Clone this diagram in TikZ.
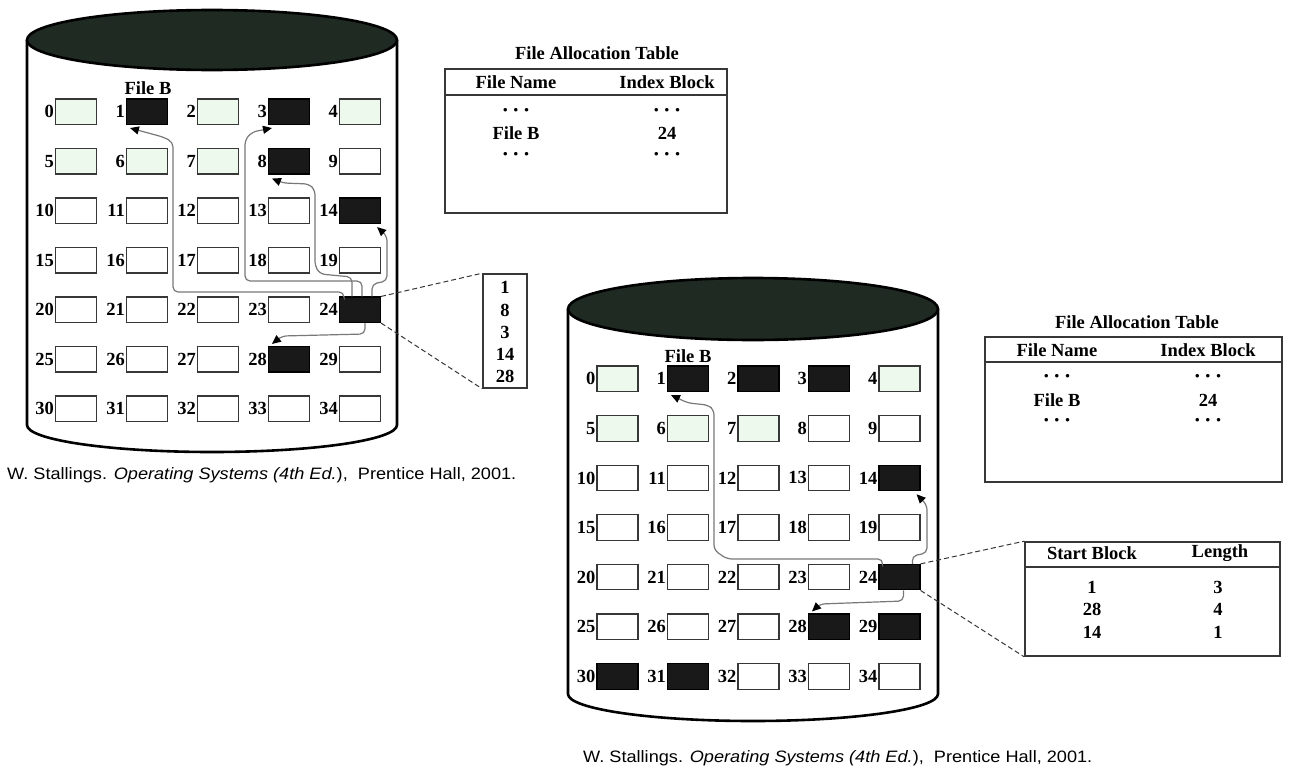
\documentclass[tikz,border=0pt]{standalone}
\usepackage{fontspec}
\setmainfont{Liberation Serif}
\newfontfamily\capfont{Liberation Sans}
\usetikzlibrary{arrows.meta,calc}
\definecolor{topc}{RGB}{30,42,34}
\definecolor{pale}{RGB}{238,249,238}
\definecolor{edge}{RGB}{55,55,55}
\definecolor{conng}{RGB}{120,120,120}
\newcommand\tridots{{\fontsize{13}{13}\selectfont\textbullet\hspace{6pt}\textbullet\hspace{6pt}\textbullet}}
\def\LF{{"g","k","g","k","g","g","g","g","k","w","w","w","w","w","k","w","w","w","w","w","w","w","w","w","k","w","w","w","k","w","w","w","w","w","w"}}
\def\RF{{"g","k","k","k","g","g","g","g","w","w","w","w","w","w","k","w","w","w","w","w","w","w","w","w","k","w","w","w","k","k","k","k","w","w","w"}}
\tikzset{
 cyl/.style={line width=2.6pt, draw=black},
 blkw/.style={draw=edge, line width=1.1pt, fill=white, minimum width=41pt, minimum height=25.5pt, inner sep=0pt},
 blkg/.style={blkw, fill=pale},
 blkk/.style={blkw, fill=black!90, draw=black},
 lbl/.style={font=\fontsize{18.5}{18.5}\selectfont\bfseries, inner sep=0pt, anchor=east},
 txt/.style={font=\fontsize{18.5}{20}\selectfont\bfseries, inner sep=0pt},
 conn/.style={draw=conng, line width=1.2pt, rounded corners=5pt, -{Triangle[color=black,fill=black,length=9pt,width=8pt]}},
 zoomline/.style={draw=edge, line width=1pt, dash pattern=on 5pt off 3pt},
 tbl/.style={draw=edge, line width=1.6pt, inner sep=0pt},
 rule/.style={draw=edge, line width=1.4pt},
 captext/.style={font=\capfont\fontsize{16.5}{18}\selectfont, inner sep=0pt, anchor=west, xscale=1.1},
}
\begin{document}
\begin{tikzpicture}[x=1pt,y=-1pt]
\useasboundingbox (0,0) rectangle (1300,776);
% ---------- left cylinder ----------
\draw[cyl] (27,40) -- (27,425) arc[start angle=180,end angle=0,x radius=185,y radius=27] -- (397,40);
\filldraw[cyl, fill=topc] (212,40) ellipse [x radius=185, y radius=30];
\foreach \i in {0,...,34}{
  \pgfmathtruncatemacro\c{mod(\i,5)}
  \pgfmathtruncatemacro\r{floor(\i/5)}
  \pgfmathsetmacro\f{\LF[\i]}
  \node[blk\f] (L\i) at ({76+71*\c},{111.75+49.5*\r}) {};
  \node[lbl] (Ln\i) at ($(L\i.west)+(-1,0)$) {\i};
}
\node[txt] (fbL) at (148,88) {File B};
% connectors left
\draw[conn] ($(L24.north west)+(5,0)$) -- (344,292) -- (173,292) -- (173,142) -- (163,137) [sharp corners] -- ($(L1.south west)+(4,3)$);
\draw[conn] ($(L24.north west)+(13,0)$) -- (352,277) -- (320,274) -- (315,266) -- (315,190) -- (309,184) -- (283,183) [sharp corners] -- ($(L8.south west)+(4,4)$);
\draw[conn] ($(L24.north west)+(23,0)$) -- (362,281) -- (245,281) -- (245,140) -- (252,132) [sharp corners] -- ($(L3.south west)+(4,3)$);
\draw[conn] ($(L24.north west)+(33,0)$) -- (372,284) -- (387,281) -- (387,236) [sharp corners] -- ($(L14.south east)+(-4,3)$);
\draw[conn] ($(L24.south)+(5,0)$) -- (365,334) -- (282,336) [sharp corners] -- ($(L28.north west)+(4,-2)$);
% index block contents
\node[tbl, draw, minimum width=44pt, minimum height=114pt] (idx) at (505,331) {};
\node[txt] (i1) at (505,287) {1};
\node[txt] (i2) at (505,310) {8};
\node[txt] (i3) at (505,332) {3};
\node[txt] (i4) at (505,354) {14};
\node[txt] (i5) at (505,376) {28};
\draw[zoomline] (L24.north east) -- (idx.north west);
\draw[zoomline] (L24.south east) -- (idx.south west);
% left FAT
\node[txt] (fatLt) at (597,53) {File Allocation Table};
\node[tbl, draw, minimum width=282pt, minimum height=144pt] (fatL) at (586,141) {};
\draw[rule] (445,95) -- (727,95);
\node[txt] (fLh1) at (516,82) {File Name};
\node[txt] (fLh2) at (667,82) {Index Block};
\node[txt] (fLa1) at (516,111) {\tridots};
\node[txt] (fLa2) at (667,111) {\tridots};
\node[txt] (fLb1) at (516,133) {File B};
\node[txt] (fLb2) at (667,133) {24};
\node[txt] (fLc1) at (516,155) {\tridots};
\node[txt] (fLc2) at (667,155) {\tridots};
\node[captext] (capL) at (7,475) {W. Stallings. \textit{Operating Systems (4th Ed.}),\ \ Prentice Hall, 2001.};
% ---------- right cylinder ----------
\draw[cyl] (568,309) -- (568,694) arc[start angle=180,end angle=0,x radius=185,y radius=27] -- (938,309);
\filldraw[cyl, fill=topc] (753,309) ellipse [x radius=185, y radius=31];
\foreach \i in {0,...,34}{
  \pgfmathtruncatemacro\c{mod(\i,5)}
  \pgfmathtruncatemacro\r{floor(\i/5)}
  \pgfmathsetmacro\f{\RF[\i]}
  \node[blk\f] (R\i) at ({617.5+70.5*\c},{378.75+49.6*\r}) {};
  \node[lbl] (Rn\i) at ($(R\i.west)+(-1,0)$) {\i};
}
\node[txt] (fbR) at (688,356) {File B};
\draw[conn] ($(R24.north west)+(4,0)$) -- (883,559) -- (727,559) -- (714,550) -- (714,410) -- (708,405) -- (688,403) [sharp corners] -- ($(R1.south west)+(4,3)$);
\draw[conn] ($(R24.north east)+(-8,0)$) -- (912,556) -- (927,553) -- (927,505) [sharp corners] -- ($(R14.south east)+(-4,3)$);
\draw[conn] ($(R24.south)+(4,0)$) -- (903.5,601) -- (820,604) [sharp corners] -- ($(R28.north west)+(4,-2)$);
% extent table
\node[tbl, draw, minimum width=255pt, minimum height=114pt] (ext) at (1152.5,599) {};
\draw[rule] (1025,567) -- (1280,567);
\node[txt] (eh1) at (1092,553) {Start Block};
\node[txt] (eh2) at (1220,553) {Length};
\node[txt] (ea1) at (1092,587) {1};
\node[txt] (ea2) at (1218,587) {3};
\node[txt] (eb1) at (1092,609) {28};
\node[txt] (eb2) at (1218,609) {4};
\node[txt] (ec1) at (1092,632) {14};
\node[txt] (ec2) at (1218,632) {1};
\draw[zoomline] (R24.north east) -- (ext.north west);
\draw[zoomline] (R24.south east) -- (ext.south west);
% right FAT
\node[txt] (fatRt) at (1137,322) {File Allocation Table};
\node[tbl, draw, minimum width=297pt, minimum height=145pt] (fatR) at (1133.5,409.5) {};
\draw[rule] (985,362) -- (1282,362);
\node[txt] (fRh1) at (1057,350) {File Name};
\node[txt] (fRh2) at (1208,350) {Index Block};
\node[txt] (fRa1) at (1057,377) {\tridots};
\node[txt] (fRa2) at (1208,377) {\tridots};
\node[txt] (fRb1) at (1057,400) {File B};
\node[txt] (fRb2) at (1208,400) {24};
\node[txt] (fRc1) at (1057,421) {\tridots};
\node[txt] (fRc2) at (1208,421) {\tridots};
\node[captext] (capR) at (583,758) {W. Stallings. \textit{Operating Systems (4th Ed.}),\ \ Prentice Hall, 2001.};
\end{tikzpicture}
\end{document}
